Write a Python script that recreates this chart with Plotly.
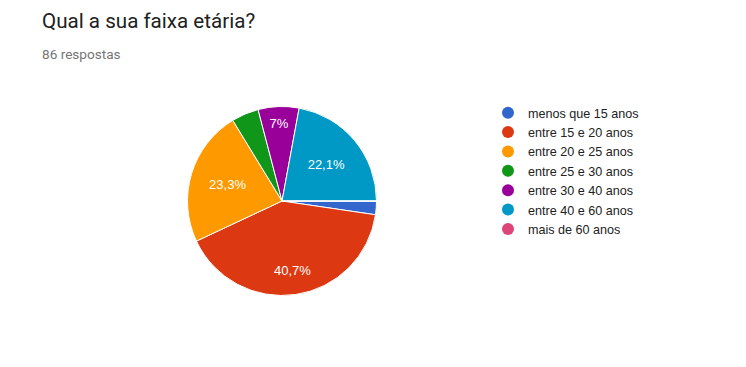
import math
import plotly.graph_objects as go

categories = ["menos que 15 anos", "entre 15 e 20 anos", "entre 20 e 25 anos",
              "entre 25 e 30 anos", "entre 30 e 40 anos", "entre 40 e 60 anos",
              "mais de 60 anos"]
counts = [2, 35, 20, 4, 6, 19, 0]
slice_labels = ["", "40,7%", "23,3%", "", "7%", "22,1%", ""]
colors = ["#3366cc", "#dc3912", "#ff9900", "#109618", "#990099", "#0099c6", "#dd4477"]

W, H = 746, 367
OFF = 8  # page offset
cx, cy, r = 282 - OFF, 201 - OFF, 94.5
ROT = 90

# the largest slice's label is drawn further out (as in the original), computed from the data
big = counts.index(max(counts))
pie_text = [("" if i == big else t) for i, t in enumerate(slice_labels)]
total = sum(counts)
start = ROT + 360 * sum(counts[:big]) / total
mid = math.radians(start + 180 * counts[big] / total)
lx = cx + 0.745 * r * math.sin(mid)
ly = cy - 0.745 * r * math.cos(mid)

fig = go.Figure()
fig.add_trace(go.Pie(
    labels=categories, values=counts, text=pie_text,
    textinfo="text", textposition="inside", insidetextorientation="horizontal",
    sort=False, direction="clockwise", rotation=ROT,
    marker=dict(colors=colors, line=dict(color="white", width=1)),
    textfont=dict(family="Arial, Liberation Sans, sans-serif", size=13, color="white"),
    showlegend=False, hoverinfo="label+value+percent",
    domain=dict(x=[(cx - r) / W, (cx + r) / W], y=[1 - (cy + r) / H, 1 - (cy - r) / H]),
))
for name, col in zip(categories, colors):
    fig.add_trace(go.Scatter(x=[None], y=[None], mode="markers", name=name,
                             marker=dict(color=col, size=12, symbol="circle")))

fig.update_layout(
    width=W, height=H, margin=dict(l=0, r=0, t=0, b=0),
    paper_bgcolor="white", plot_bgcolor="white",
    xaxis=dict(visible=False), yaxis=dict(visible=False),
    legend=dict(x=(488 - OFF) / W, y=1 - (98 - OFF) / H, xanchor="left", yanchor="top",
                font=dict(family="Arial, Liberation Sans, sans-serif", size=12.6, color="#222222"),
                itemwidth=30, tracegroupgap=0, bgcolor="rgba(0,0,0,0)"),
    annotations=[
        dict(text="Qual a sua faixa etária?", x=(40 - OFF) / W, y=1 - (7 - OFF) / H, xref="paper", yref="paper",
             xanchor="left", yanchor="top", showarrow=False,
             font=dict(family="Roboto, Arial, sans-serif", size=20.6, color="#212121")),
        dict(text="86 respostas", x=(40 - OFF) / W, y=1 - (44 - OFF) / H, xref="paper", yref="paper",
             xanchor="left", yanchor="top", showarrow=False,
             font=dict(family="Roboto, Arial, sans-serif", size=13.6, color="#757575")),
        dict(text=slice_labels[big], x=lx / W, y=1 - ly / H, xref="paper", yref="paper",
             xanchor="center", yanchor="middle", showarrow=False,
             font=dict(family="Arial, Liberation Sans, sans-serif", size=13, color="white")),
    ],
)
fig.write_html("out.html")
